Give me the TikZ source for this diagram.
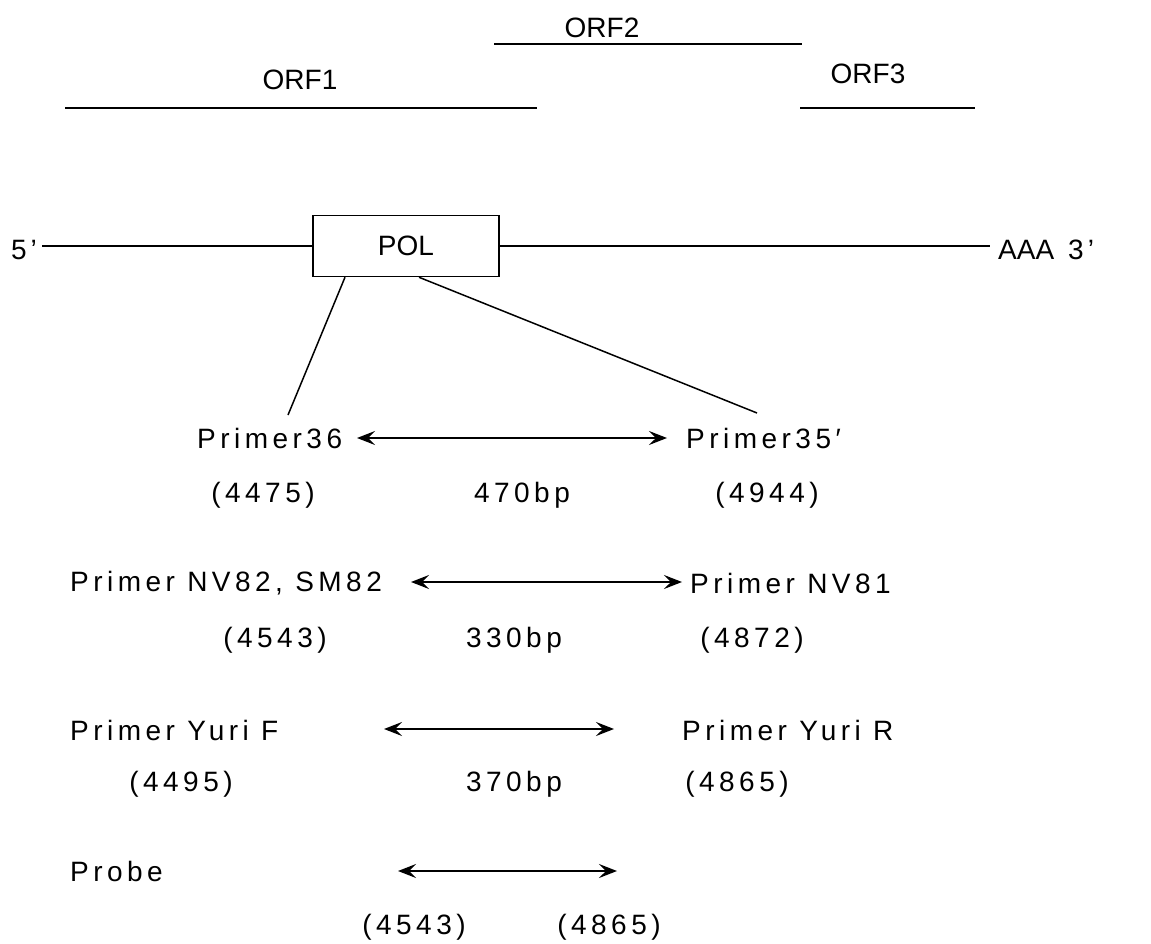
\documentclass[tikz,border=0pt]{standalone}
\usepackage{fontspec}
\setmainfont{Liberation Sans}
\newfontfamily\spaced{Liberation Sans}[LetterSpace=16]
\usetikzlibrary{arrows.meta}
\begin{document}
\begin{tikzpicture}[x=1pt,y=-1pt,
  every node/.style={font=\fontsize{28}{32}\selectfont\spaced, inner sep=0pt},
  plain/.style={font=\fontsize{28}{32}\selectfont\rmfamily},
  ln/.style={line width=1.5pt},
  dbl/.style={line width=1.5pt, {Stealth[length=18pt,width=14pt,inset=7pt]}-{Stealth[length=18pt,width=14pt,inset=7pt]}}]
\useasboundingbox (0,0) rectangle (1151,944);
% ORFs
\node[plain] (orf2) at (602,28) {ORF2};
\coordinate (o2a) at (494,44); \coordinate (o2b) at (802,44);
\draw[ln] (o2a) -- (o2b);
\node[plain] (orf1) at (300,80) {ORF1};
\coordinate (o1a) at (65,108); \coordinate (o1b) at (537,108);
\draw[ln] (o1a) -- (o1b);
\node[plain] (orf3) at (868,74) {ORF3};
\coordinate (o3a) at (800,108); \coordinate (o3b) at (975,108);
\draw[ln] (o3a) -- (o3b);
% genome
\node[plain, anchor=west] (five) at (11,250) {5\hspace{4pt}’};
\node[plain, draw, line width=1.5pt, minimum width=186pt, minimum height=61pt] (pol) at (406,246) {POL};
\node[plain, anchor=west] (aaa) at (998,250) {AAA\hspace{14pt}3\hspace{4pt}’};
\coordinate (ml) at (42,246); \coordinate (mr) at (990,246);
\draw[ln] (ml) -- (pol.west);
\draw[ln] (pol.east) -- (mr);
% primer connectors
\coordinate (p36) at (288,415); \coordinate (p35) at (757,413);
\draw[ln] ([xshift=-61pt]pol.south) -- (p36);
\draw[ln] ([xshift=13pt]pol.south) -- (p35);
% row 1
\node[anchor=west] (pr36) at (197,438) {Primer36};
\node[anchor=west] (pr35) at (686,438) {Primer35′};
\coordinate (a1l) at (357,438); \coordinate (a1r) at (667,438);
\draw[dbl] (a1l) -- (a1r);
\node (n4475) at (263,495) {(4475)};
\node (n470) at (522,495) {470bp};
\node (n4944) at (767,495) {(4944)};
% row 2
\node[anchor=west] (nv82) at (70,583) {Primer NV82, SM82};
\node[anchor=west] (nv81) at (690,583) {Primer NV81};
\coordinate (a2l) at (411,582); \coordinate (a2r) at (682,582);
\draw[dbl] (a2l) -- (a2r);
\node (n4543) at (275,640) {(4543)};
\node (n330) at (514,640) {330bp};
\node (n4872) at (752,640) {(4872)};
% row 3
\node[anchor=west] (yf) at (70,730) {Primer Yuri F};
\node[anchor=west] (yr) at (682,730) {Primer Yuri R};
\coordinate (a3l) at (384,729); \coordinate (a3r) at (614,729);
\draw[dbl] (a3l) -- (a3r);
\node (n4495) at (181,784) {(4495)};
\node (n370) at (514,784) {370bp};
\node (n4865a) at (737,784) {(4865)};
% row 4
\node[anchor=west] (probe) at (70,871) {Probe};
\coordinate (a4l) at (398,871); \coordinate (a4r) at (617,871);
\draw[dbl] (a4l) -- (a4r);
\node (n4543b) at (414,927) {(4543)};
\node (n4865b) at (609,927) {(4865)};
\end{tikzpicture}
\end{document}
